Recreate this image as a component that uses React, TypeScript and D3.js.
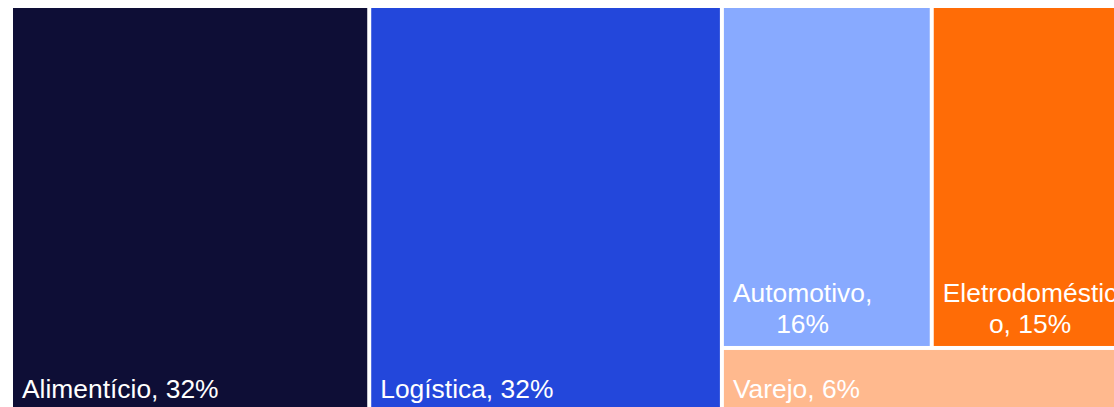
import * as d3 from "d3";
import { useEffect, useRef } from "react";

const categories = ["Alimentício", "Logística", "Automotivo", "Eletrodoméstico", "Varejo"];
const shares = [32.1, 31.6, 15.8, 14.7, 5.8];
const colors = ["#0e0e36", "#2347db", "#88aaff", "#ff6c06", "#ffb98e"];

type Leaf = { name: string; value: number; color: string };

const FONT = "'Liberation Sans', Arial, sans-serif";
const FONT_SIZE = 26.4;
const LINE_H = 31;

export default function App() {
    const svgRef = useRef<SVGSVGElement | null>(null);

    useEffect(() => {
        if (!svgRef.current) return;

        const svg = d3.select(svgRef.current);
        const totalW = 1114;
        const totalH = 407;
        const margin = { top: 8, left: 13 };
        // the treemap runs past the right and bottom edges of the page
        const W = 1112;
        const H = 403;

        svg.attr("width", totalW).attr("height", totalH);
        svg.selectAll("*").remove();

        const leaves: Leaf[] = categories.map((name, i) => ({
            name,
            value: shares[i],
            color: colors[i],
        }));

        const root = d3
            .hierarchy<any>({ children: leaves })
            .sum((d) => d.value ?? 0)
            .sort((a, b) => (b.value ?? 0) - (a.value ?? 0));

        d3.treemap<any>().tile(d3.treemapSquarify).size([W, H]).paddingInner(4)(root);

        const g = svg
            .append("g")
            .attr("transform", `translate(${margin.left},${margin.top})`);

        const measure = g
            .append("text")
            .attr("font-family", FONT)
            .attr("font-size", FONT_SIZE)
            .attr("visibility", "hidden");
        const textW = (s: string) => {
            measure.text(s);
            return (measure.node() as SVGTextElement).getComputedTextLength();
        };

        const wrap = (label: string, maxW: number) => {
            const lines: string[] = [];
            let cur = "";
            for (const w of label.split(" ")) {
                const trial = cur ? cur + " " + w : w;
                if (textW(trial) <= maxW) {
                    cur = trial;
                    continue;
                }
                if (cur) lines.push(cur);
                let rest = w;
                while (textW(rest) > maxW && rest.length > 1) {
                    let k = rest.length - 1;
                    while (k > 1 && textW(rest.slice(0, k)) > maxW) k--;
                    lines.push(rest.slice(0, k));
                    rest = rest.slice(k);
                }
                cur = rest;
            }
            if (cur) lines.push(cur);
            return lines;
        };

        const nodes = root.leaves() as d3.HierarchyRectangularNode<any>[];

        g.selectAll("rect.cell")
            .data(nodes)
            .join("rect")
            .attr("class", "cell")
            .attr("x", (d) => d.x0)
            .attr("y", (d) => d.y0)
            .attr("width", (d) => d.x1 - d.x0)
            .attr("height", (d) => d.y1 - d.y0)
            .attr("fill", (d) => d.data.color);

        const pad = 9;

        nodes.forEach((d) => {
            const label = `${d.data.name}, ${Math.round(d.data.value)}%`;
            const lines = wrap(label, d.x1 - d.x0 - 12);
            const blockW = d3.max(lines, (l) => textW(l)) ?? 0;
            const cx = d.x0 + pad + blockW / 2;
            const lastY = d.y1 - 13;

            const t = g
                .append("text")
                .attr("font-family", FONT)
                .attr("font-size", FONT_SIZE)
                .attr("fill", "#ffffff")
                .attr("text-anchor", "middle");

            lines.forEach((l, i) => {
                t.append("tspan")
                    .attr("x", cx)
                    .attr("y", lastY - (lines.length - 1 - i) * LINE_H)
                    .text(l);
            });
        });

        measure.remove();
    }, []);

    return (
        <svg
            ref={svgRef}
            style={{ position: "absolute", left: 0, top: 0, display: "block" }}
        />
    );
}
